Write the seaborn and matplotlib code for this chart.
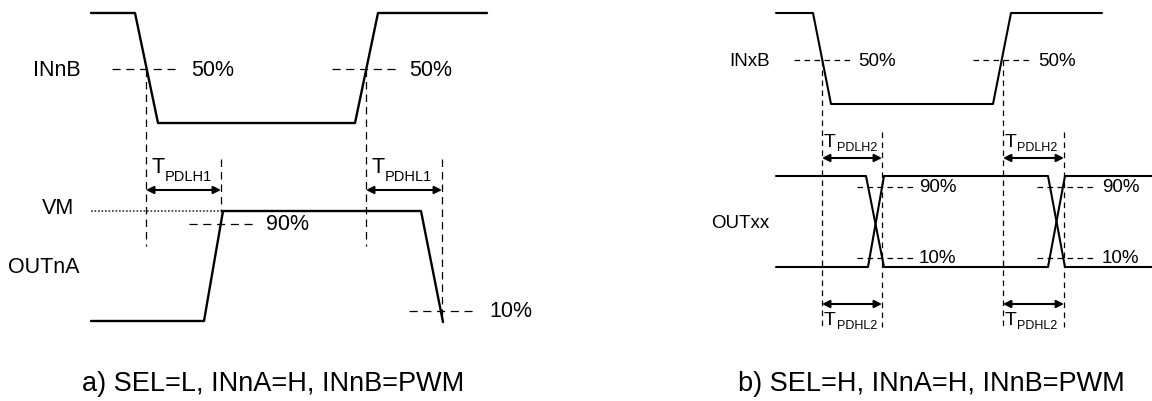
import matplotlib
matplotlib.use("Agg")
import matplotlib.pyplot as plt
import seaborn as sns

sns.set_style("white")
plt.rcParams['font.family'] = ['Liberation Sans', 'DejaVu Sans']
plt.rcParams['text.color'] = 'black'

# ---------------- data (diagram coordinates, px; y grows downward) ----------
# Panel a) waveforms
inb_a_t = [91, 135, 158, 355, 378, 487]
inb_a_v = [14, 14, 124, 124, 14, 14]
outa_t = [91, 204, 223, 421, 443]
outa_v = [322, 322, 212, 212, 323]
vm_t = [91, 223]
vm_v = [212, 212]

# Panel b) waveforms
inb_b_t = [776, 813, 831, 993, 1011, 1102]
inb_b_v = [14, 14, 105, 105, 14, 14]
outb_hi_t = [776, 866, 884, 1048, 1065, 1152]
outb_hi_v = [177, 177, 268, 268, 177, 177]
outb_lo_t = [776, 868, 884, 1048, 1065, 1152]
outb_lo_v = [268, 268, 177, 177, 268, 268]

# threshold marks: (x0, x1, y, label, label_x)
thr_a = [(112, 180, 70, "50%", 191), (332, 400, 70, "50%", 409),
         (189, 257, 225, "90%", 266), (409, 477, 312, "10%", 489)]
thr_b = [(794, 850, 61, "50%", 858), (973, 1031, 61, "50%", 1038),
         (857, 913, 188, "90%", 919), (1037, 1093, 188, "90%", 1102),
         (857, 913, 259, "10%", 919), (1037, 1093, 259, "10%", 1102)]

# vertical reference lines: (x, y0, y1)
vref_a = [(146, 70, 247), (366, 70, 247), (221, 160, 213), (442, 160, 323)]
vref_b = [(822, 61, 327), (1003, 61, 327), (882, 133, 328), (1064, 133, 328)]

# delay arrows: (x0, x1, y)
arr_a = [(146, 221, 191), (366, 442, 191)]
arr_b = [(822, 882, 159), (1003, 1064, 159), (822, 882, 305), (1003, 1064, 305)]

# delay labels: (x, y, subscript)
tlab_a = [(151, 168, "PDLH1"), (371, 168, "PDHL1")]
tlab_b = [(824, 143, "PDLH2"), (1005, 143, "PDLH2"),
          (824, 321, "PDHL2"), (1005, 321, "PDHL2")]

# signal names: (x, y, text)
names_a = [(33, 71, "INnB"), (42, 209, "VM"), (8, 268, "OUTnA")]
names_b = [(729, 62, "INxB"), (711, 224, "OUTxx")]

captions = [(273, 384, "a) SEL=L, INnA=H, INnB=PWM"),
            (931, 384, "b) SEL=H, INnA=H, INnB=PWM")]

# ---------------- drawing ----------------------------------------------------
fig = plt.figure(figsize=(11.52, 4.02), dpi=100)
ax = fig.add_axes([0, 0, 1, 1])

for t, v, lw in [(inb_a_t, inb_a_v, 1.7), (outa_t, outa_v, 1.7),
                 (inb_b_t, inb_b_v, 1.5), (outb_hi_t, outb_hi_v, 1.5),
                 (outb_lo_t, outb_lo_v, 1.5)]:
    sns.lineplot(x=t, y=v, sort=False, estimator=None, ax=ax,
                 color="black", lw=lw)

sns.lineplot(x=vm_t, y=vm_v, sort=False, estimator=None, ax=ax,
             color="#333333", lw=1.2, linestyle=(0, (1, 1.1)))

for (x0, x1, y, lab, lx) in thr_a:
    ax.plot([x0, x1], [y, y], color="black", lw=0.9, linestyle=(0, (6.5, 4.5)))
    ax.text(lx, y, lab, fontsize=15.5, va="center", ha="left")
for (x0, x1, y, lab, lx) in thr_b:
    ax.plot([x0, x1], [y, y], color="black", lw=0.9, linestyle=(0, (4.5, 3.5)))
    ax.text(lx, y, lab, fontsize=13.5, va="center", ha="left")

for (x, y0, y1) in vref_a:
    ax.plot([x, x], [y0, y1], color="black", lw=0.9, linestyle=(0, (6, 4)))
for (x, y0, y1) in vref_b:
    ax.plot([x, x], [y0, y1], color="black", lw=0.9, linestyle=(0, (4.5, 3.5)))

for (x0, x1, y) in arr_a + arr_b:
    ax.annotate("", xy=(x1, y), xytext=(x0, y),
                arrowprops=dict(arrowstyle="<|-|>", mutation_scale=11, lw=1.5,
                                color="black", shrinkA=0, shrinkB=0))

for (x, y, sub) in tlab_a:
    ax.text(x, y, "T", fontsize=15.5, va="center", ha="left")
    ax.text(x + 14, y + 9, sub, fontsize=10.5, va="center", ha="left")
for (x, y, sub) in tlab_b:
    ax.text(x, y, "T", fontsize=14, va="center", ha="left")
    ax.text(x + 12.5, y + 5, sub, fontsize=9, va="center", ha="left")

for (x, y, s) in names_a:
    ax.text(x, y, s, fontsize=15.5, va="center", ha="left")
for (x, y, s) in names_b:
    ax.text(x, y, s, fontsize=13.5, va="center", ha="left")

for (x, y, s) in captions:
    ax.text(x, y, s, fontsize=19.5, va="center", ha="center")

ax.set_xlim(0, 1152)
ax.set_ylim(402, 0)
ax.axis("off")
fig.savefig("out.png", dpi=100)
